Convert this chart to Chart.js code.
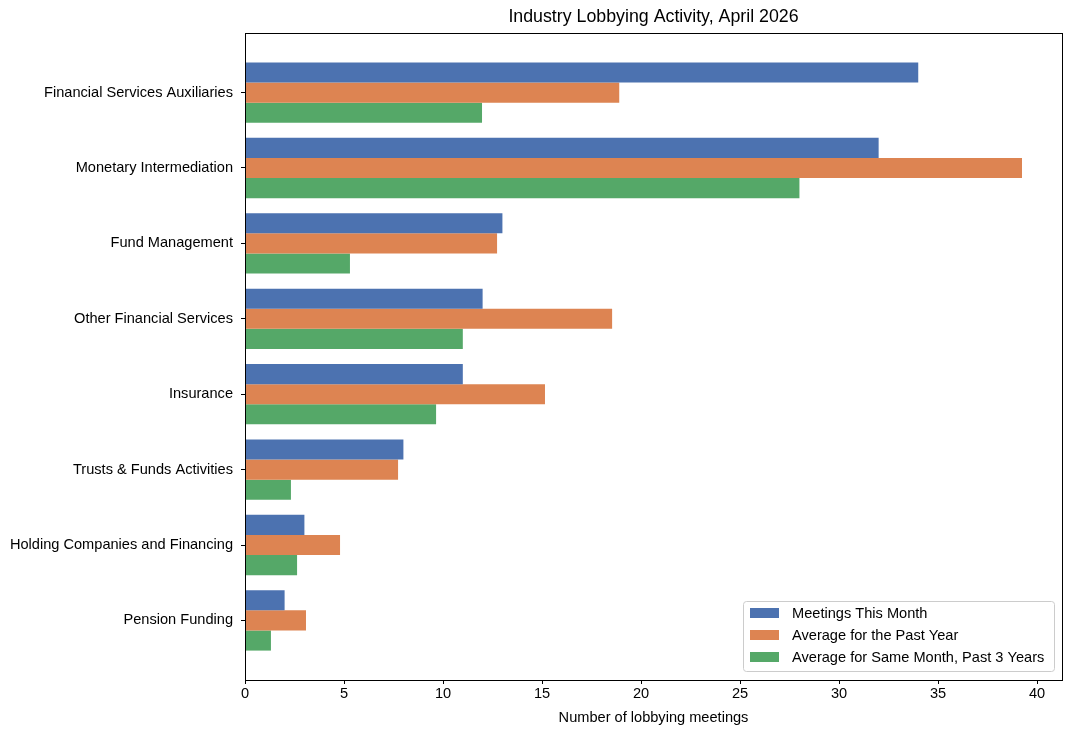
<!DOCTYPE html>
<html>
<head>
<meta charset="utf-8">
<script src="https://cdn.jsdelivr.net/npm/chart.js@4"></script>
<style>
    html, body { margin: 0; padding: 0; background: #fff; }
    #wrap { width: 1072px; height: 736px; }
</style>
</head>
<body>
<div id="wrap"><canvas id="lobbyChart" width="1072" height="736"></canvas></div>
<script>
let categories = ['Financial Services Auxiliaries', 'Monetary Intermediation', 'Fund Management', 'Other Financial Services', 'Insurance', 'Trusts & Funds Activities', 'Holding Companies and Financing', 'Pension Funding'];
let meetingsThisMonth = [34, 32, 13, 12, 11, 8, 3, 2];
let avgPastYear = [18.9, 39.24, 12.73, 18.54, 15.15, 7.73, 4.8, 3.08];
let avgSameMonth = [11.97, 28, 5.3, 11, 9.65, 2.32, 2.63, 1.31];
let xTicks = [0, 5, 10, 15, 20, 25, 30, 35, 40];
let seriesNames = ['Meetings This Month', 'Average for the Past Year', 'Average for Same Month, Past 3 Years'];
let colors = ['#4c72b0', '#dd8452', '#55a868'];
let chartTitle = 'Industry Lobbying Activity, April 2026';

const fontName = '"Liberation Sans", Arial, sans-serif';
const fontSize = 14.6;


function toPoints(values) {
    return values.map((v, i) => ({ x: v, y: i }));
}


// frame round the plot area, like the matplotlib spines, plus the title centred over it
const framePlugin = {
    id: 'frame',
    afterDraw(chart) {
        let a = chart.chartArea;
        let ctx = chart.ctx;
        ctx.save();
        ctx.strokeStyle = '#000';
        ctx.lineWidth = 1;
        ctx.strokeRect(Math.round(a.left) + 0.5, Math.round(a.top) + 0.5, Math.round(a.right - a.left), Math.round(a.bottom - a.top));
        ctx.fillStyle = '#000';
        ctx.font = '17.8px ' + fontName;
        ctx.textAlign = 'center';
        ctx.textBaseline = 'middle';
        ctx.fillText(chartTitle, (a.left + a.right) / 2, a.top - 16);
        ctx.restore();
    }
};


// legend box in the lower right corner of the plot
const boxLegend = {
    id: 'boxLegend',
    afterDraw(chart) {
        let a = chart.chartArea;
        let ctx = chart.ctx;
        let w = 311, h = 70;
        let x = a.right - 8 - w;
        let y = a.bottom - 9 - h;
        ctx.save();
        ctx.fillStyle = 'rgba(255,255,255,0.8)';
        ctx.strokeStyle = '#cccccc';
        ctx.lineWidth = 1;
        ctx.beginPath();
        ctx.roundRect(x + 0.5, y + 0.5, w, h, 3);
        ctx.fill();
        ctx.stroke();
        ctx.font = fontSize + 'px ' + fontName;
        ctx.textBaseline = 'middle';
        for (let i = 0; i < seriesNames.length; i++) {
            let cy = y + 12 + i * 22;
            ctx.fillStyle = colors[i];
            ctx.fillRect(x + 7, cy - 5, 29, 10);
            ctx.fillStyle = '#000';
            ctx.fillText(seriesNames[i], x + 49, cy + 1);
        }
        ctx.restore();
    }
};


let lobbyChart = new Chart('lobbyChart', {
    type: 'bar',
    data: {
        datasets: [{
            label: seriesNames[0],
            data: toPoints(meetingsThisMonth),
            backgroundColor: colors[0]
        }, {
            label: seriesNames[1],
            data: toPoints(avgPastYear),
            backgroundColor: colors[1]
        }, {
            label: seriesNames[2],
            data: toPoints(avgSameMonth),
            backgroundColor: colors[2]
        }]
    },
    options: {
        indexAxis: 'y',
        responsive: false,
        animation: false,
        categoryPercentage: 0.8,
        barPercentage: 1.0,
        layout: { padding: { left: 0, right: 10, top: 33, bottom: 0 } },
        plugins: {
            legend: { display: false },
            tooltip: { enabled: false },
            title: { display: false }
        },
        scales: {
            x: {
                type: 'linear',
                min: 0,
                max: 41.26,
                afterBuildTicks: (scale) => { scale.ticks = xTicks.map(v => ({ value: v })); },
                afterFit: (scale) => { scale.height = 56; },
                ticks: { color: '#000', font: { family: fontName, size: fontSize }, padding: 1, maxRotation: 0 },
                grid: { display: true, drawOnChartArea: false, drawTicks: true, tickLength: 4, color: '#000' },
                border: { display: true, color: '#000', width: 1 },
                title: {
                    display: true,
                    text: 'Number of lobbying meetings',
                    color: '#000',
                    font: { family: fontName, size: fontSize },
                    padding: { top: 4, bottom: 9 }
                }
            },
            y: {
                type: 'linear',
                reverse: true,
                min: -0.79,
                max: 7.79,
                offset: false,
                afterBuildTicks: (scale) => { scale.ticks = categories.map((c, i) => ({ value: i })); },
                afterFit: (scale) => { scale.width = 245; },
                ticks: {
                    color: '#000',
                    font: { family: fontName, size: fontSize },
                    padding: 8,
                    autoSkip: false,
                    callback: (value) => categories[value]
                },
                grid: { display: true, drawOnChartArea: false, drawTicks: true, tickLength: 4, color: '#000', offset: false },
                border: { display: true, color: '#000', width: 1 }
            }
        }
    },
    plugins: [framePlugin, boxLegend]
});
</script>
</body>
</html>
